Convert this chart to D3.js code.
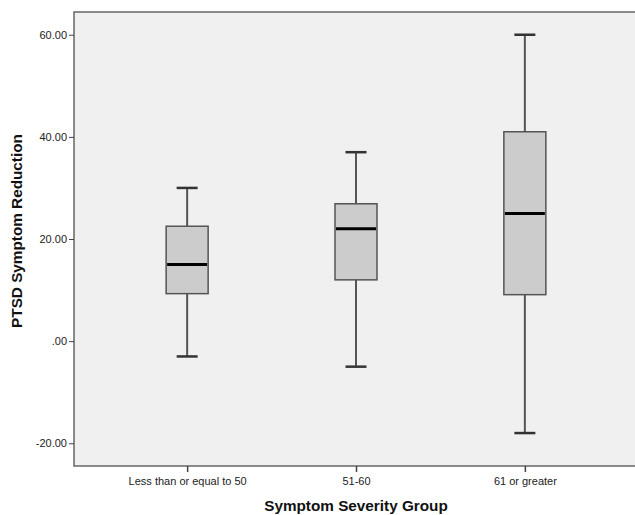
<!DOCTYPE html>
<html>
<head>
<meta charset="utf-8">
<script src="https://cdn.jsdelivr.net/npm/d3@7"></script>
<style>
  body { margin: 0; background: #fff; }
  svg { display: block; font-family: "Liberation Sans", Arial, sans-serif; }
</style>
</head>
<body>
<div id="chart"></div>
<script>
// ---- data ----
const groups = ["Less than or equal to 50", "51-60", "61 or greater"];
const whiskerLow = [-3, -5, -18];
const q1 = [9.3, 12.0, 9.1];
const median = [15, 22, 25];
const q3 = [22.5, 26.9, 41.0];
const whiskerHigh = [30, 37, 60];
const yTicks = [-20, 0, 20, 40, 60];

// ---- layout ----
const CONFIG = {
    WIDTH: 635,
    HEIGHT: 515,
    PLOT: { LEFT: 74, RIGHT: 638, TOP: 12, BOTTOM: 466 },
    BOX_WIDTH: 42,
    CAP_WIDTH: 21,
    BG: "#f0f0f0",
    BOX_FILL: "#cccccc",
    LINE: "#555555",
    FRAME: "#666666",
};

const data = groups.map((g, i) => ({
    group: g, lo: whiskerLow[i], q1: q1[i], med: median[i], q3: q3[i], hi: whiskerHigh[i]
}));

const svg = d3.select("#chart").append("svg")
    .attr("width", CONFIG.WIDTH)
    .attr("height", CONFIG.HEIGHT);

const x = d3.scalePoint()
    .domain(groups)
    .range([CONFIG.PLOT.LEFT, CONFIG.PLOT.RIGHT])
    .padding(0.67);

const y = d3.scaleLinear()
    .domain([-24.45, 64.45])
    .range([CONFIG.PLOT.BOTTOM, CONFIG.PLOT.TOP]);

// --- plot background (frame on top, left, bottom only; right side runs off the page) ---
svg.append("rect")
    .attr("x", CONFIG.PLOT.LEFT)
    .attr("y", CONFIG.PLOT.TOP)
    .attr("width", CONFIG.PLOT.RIGHT - CONFIG.PLOT.LEFT)
    .attr("height", CONFIG.PLOT.BOTTOM - CONFIG.PLOT.TOP)
    .attr("fill", CONFIG.BG);

svg.append("path")
    .attr("d", `M${CONFIG.PLOT.RIGHT},${CONFIG.PLOT.TOP}H${CONFIG.PLOT.LEFT}V${CONFIG.PLOT.BOTTOM}H${CONFIG.PLOT.RIGHT}`)
    .attr("fill", "none")
    .attr("stroke", CONFIG.FRAME)
    .attr("stroke-width", 1.5);

// --- axes ---
const fmtY = d => d === 0 ? ".00" : d3.format(".2f")(d).replace("\u2212", "-");

const yAxis = svg.append("g")
    .attr("transform", `translate(${CONFIG.PLOT.LEFT},0)`)
    .call(d3.axisLeft(y).tickValues(yTicks).tickSize(5).tickPadding(2).tickFormat(fmtY));
yAxis.select(".domain").remove();
yAxis.selectAll("line").attr("stroke", "#444");
yAxis.selectAll("text").attr("font-size", 11).attr("fill", "#222")
    .attr("font-family", "Liberation Sans, Arial, sans-serif");

const xAxis = svg.append("g")
    .attr("transform", `translate(0,${CONFIG.PLOT.BOTTOM})`)
    .call(d3.axisBottom(x).tickSize(6).tickPadding(5));
xAxis.select(".domain").remove();
xAxis.selectAll("line").attr("stroke", "#444").attr("stroke-width", 1.5);
xAxis.selectAll("text").attr("font-size", 11).attr("fill", "#222")
    .attr("font-family", "Liberation Sans, Arial, sans-serif");

// --- boxes ---
const box = svg.append("g").selectAll("g")
    .data(data)
    .join("g")
    .attr("transform", d => `translate(${x(d.group)},0)`);

// whiskers
box.append("line")
    .attr("x1", 0).attr("x2", 0)
    .attr("y1", d => y(d.hi)).attr("y2", d => y(d.q3))
    .attr("stroke", CONFIG.LINE).attr("stroke-width", 2);
box.append("line")
    .attr("x1", 0).attr("x2", 0)
    .attr("y1", d => y(d.q1)).attr("y2", d => y(d.lo))
    .attr("stroke", CONFIG.LINE).attr("stroke-width", 2);

// caps
box.selectAll(".cap")
    .data(d => [d.hi, d.lo])
    .join("line")
    .attr("class", "cap")
    .attr("x1", -CONFIG.CAP_WIDTH / 2).attr("x2", CONFIG.CAP_WIDTH / 2)
    .attr("y1", v => y(v)).attr("y2", v => y(v))
    .attr("stroke", "#333").attr("stroke-width", 2.5);

// box body
box.append("rect")
    .attr("x", -CONFIG.BOX_WIDTH / 2)
    .attr("width", CONFIG.BOX_WIDTH)
    .attr("y", d => y(d.q3))
    .attr("height", d => y(d.q1) - y(d.q3))
    .attr("fill", CONFIG.BOX_FILL)
    .attr("stroke", CONFIG.LINE)
    .attr("stroke-width", 1.5);

// median
box.append("line")
    .attr("x1", -CONFIG.BOX_WIDTH / 2 + 1).attr("x2", CONFIG.BOX_WIDTH / 2 - 1)
    .attr("y1", d => y(d.med)).attr("y2", d => y(d.med))
    .attr("stroke", "#000").attr("stroke-width", 3);

// --- titles ---
svg.append("text")
    .attr("x", 356)
    .attr("y", 511)
    .attr("text-anchor", "middle")
    .attr("font-size", 15.3)
    .attr("font-weight", "bold")
    .attr("fill", "#111")
    .text("Symptom Severity Group");

svg.append("text")
    .attr("transform", "translate(22,231) rotate(-90)")
    .attr("text-anchor", "middle")
    .attr("font-size", 15.3)
    .attr("font-weight", "bold")
    .attr("fill", "#111")
    .text("PTSD Symptom Reduction");
</script>
</body>
</html>
